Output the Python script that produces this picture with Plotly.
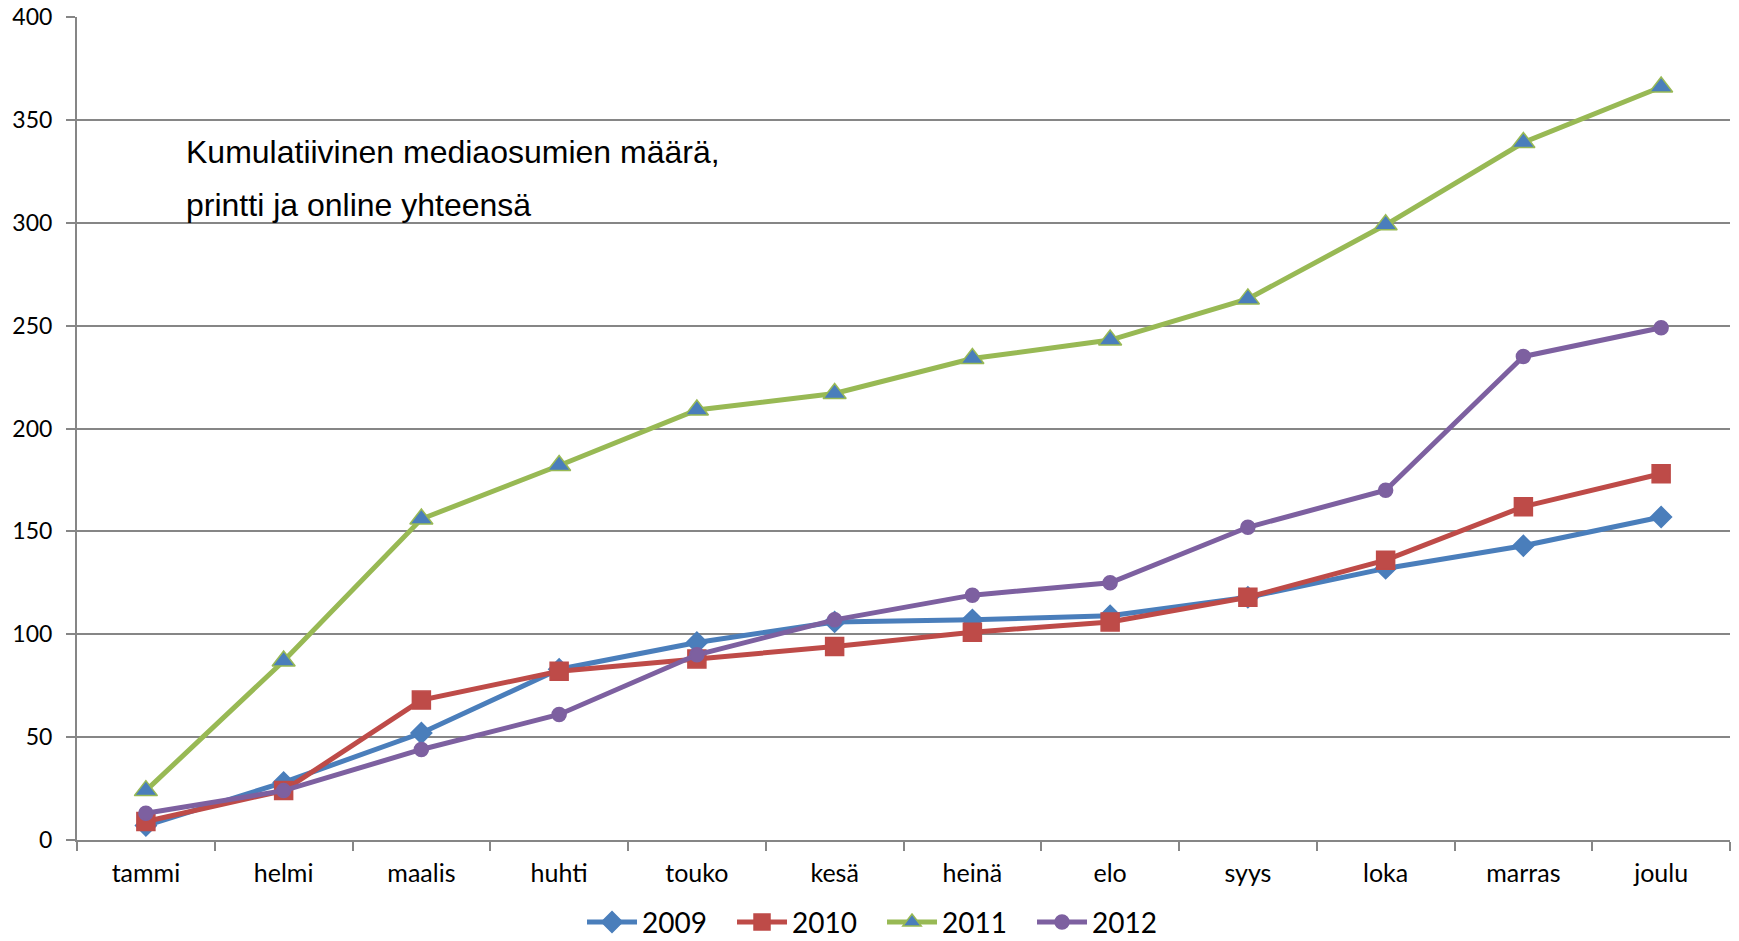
import plotly.graph_objects as go

months = ["tammi", "helmi", "maalis", "huhti", "touko", "kesä", "heinä", "elo", "syys", "loka", "marras", "joulu"]
s2009 = [7, 28, 52, 83, 96, 106, 107, 109, 118, 132, 143, 157]
s2010 = [9, 24, 68, 82, 88, 94, 101, 106, 118, 136, 162, 178]
s2011 = [24, 87, 156, 182, 209, 217, 234, 243, 263, 299, 339, 366]
s2012 = [13, 24, 44, 61, 90, 107, 119, 125, 152, 170, 235, 249]
years = ["2009", "2010", "2011", "2012"]
y_ticks = [0, 50, 100, 150, 200, 250, 300, 350, 400]
title_lines = ["Kumulatiivinen mediaosumien määrä,", "printti ja online yhteensä"]

styles = [
    dict(color="#4A7EBB", symbol="diamond", mfill="#4A7EBB", mline="#4A7EBB", size=16),
    dict(color="#BE4B48", symbol="square", mfill="#BE4B48", mline="#BE4B48", size=18),
    dict(color="#98B954", symbol="triangle-up", mfill="#4A7EBB", mline="#98B954", size=20),
    dict(color="#7D60A0", symbol="circle", mfill="#7D60A0", mline="#7D60A0", size=14),
]

fig = go.Figure()
for name, vals, st in zip(years, [s2009, s2010, s2011, s2012], styles):
    fig.add_trace(go.Scatter(
        x=months, y=vals, name=name, mode="lines+markers",
        line=dict(color=st["color"], width=5),
        marker=dict(symbol=st["symbol"], size=st["size"], color=st["mfill"],
                    line=dict(color=st["mline"], width=1.5)),
    ))

for line_text, ypos in zip(title_lines, [0.836, 0.772]):
    fig.add_annotation(
        xref="paper", yref="paper", x=0.0647, y=ypos, xanchor="left", yanchor="middle",
        text=line_text, showarrow=False, align="left",
        font=dict(family="Liberation Sans, Arial", size=32, color="#000000"),
    )

fig.update_layout(
    width=1739, height=941,
    margin=dict(l=77, r=9, t=17, b=101, autoexpand=False),
    paper_bgcolor="white", plot_bgcolor="white",
    showlegend=True,
    legend=dict(orientation="h", x=0.487, xanchor="center", y=-0.1, yanchor="middle",
                font=dict(family="Lato, Liberation Sans", size=28, color="#000000"),
                itemwidth=50, entrywidth=85, tracegroupgap=0),
    font=dict(family="Lato", color="#000000"),
)
fig.update_xaxes(
    type="category", range=[-0.5, 11.5],
    showline=True, linecolor="#868686", linewidth=2,
    ticks="outside", tickson="boundaries", ticklen=9, tickcolor="#868686", tickwidth=2,
    showgrid=False, tickfont=dict(family="Lato, Liberation Sans", size=25, color="#000000"),
    ticklabelstandoff=10,
)
fig.update_yaxes(
    range=[0, 400], tickvals=y_ticks, ticktext=[str(v) for v in y_ticks],
    showline=True, linecolor="#868686", linewidth=2,
    ticks="outside", ticklen=9, tickcolor="#868686", tickwidth=2,
    showgrid=True, gridcolor="#868686", gridwidth=2, zeroline=False,
    tickfont=dict(family="Lato, Liberation Sans", size=23, color="#000000"),
    ticklabelstandoff=9,
)

fig.write_html("out.html", config={"displayModeBar": False},
               post_script="document.body.style.margin='0px';document.body.style.overflow='hidden';")
